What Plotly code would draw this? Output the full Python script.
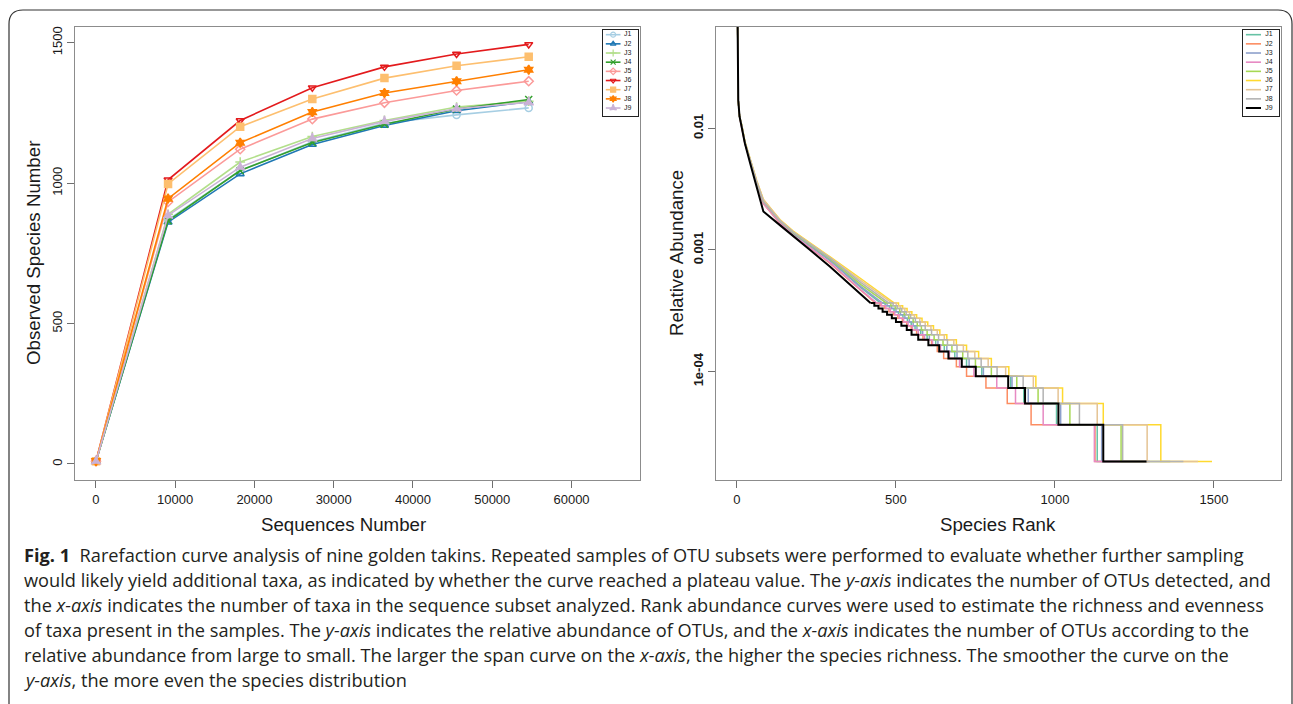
import plotly.graph_objects as go

W, H = 1293, 704

# ---------------- data: rarefaction (left) ----------------
samples = ["J1", "J2", "J3", "J4", "J5", "J6", "J7", "J8", "J9"]
seq_depth = [10, 9100, 18200, 27300, 36400, 45500, 54600]
obs_J1 = [10, 870, 1045, 1147, 1213, 1243, 1268]
obs_J2 = [10, 861, 1033, 1138, 1205, 1258, 1290]
obs_J3 = [10, 889, 1075, 1166, 1223, 1271, 1292]
obs_J4 = [10, 866, 1045, 1145, 1210, 1264, 1298]
obs_J5 = [10, 933, 1121, 1228, 1286, 1330, 1363]
obs_J6 = [10, 1012, 1223, 1340, 1414, 1460, 1494]
obs_J7 = [10, 997, 1201, 1300, 1374, 1418, 1450]
obs_J8 = [10, 945, 1144, 1253, 1321, 1363, 1404]
obs_J9 = [10, 885, 1057, 1159, 1220, 1265, 1288]
observed = [obs_J1, obs_J2, obs_J3, obs_J4, obs_J5, obs_J6, obs_J7, obs_J8, obs_J9]

# ---------------- data: rank abundance (right) ----------------
head_rank = [1, 2, 4, 8, 15, 25, 41, 62, 83, 135, 177, 230, 292, 390]
head_J1 = [0.15, 0.05, 0.017, 0.0125, 0.0105, 0.0076, 0.0055, 0.0036, 0.0025, 0.00170, 0.00136, 0.00108, 0.00082, 0.00049]
head_J2 = [0.15, 0.05, 0.017, 0.0125, 0.0104, 0.0075, 0.0054, 0.0035, 0.0024, 0.00165, 0.00130, 0.00104, 0.00078, 0.00046]
head_J3 = [0.15, 0.05, 0.017, 0.0125, 0.0105, 0.0076, 0.0055, 0.0036, 0.0025, 0.00171, 0.00137, 0.00109, 0.00083, 0.00050]
head_J4 = [0.15, 0.05, 0.017, 0.0125, 0.0104, 0.0075, 0.0054, 0.0035, 0.0024, 0.00167, 0.00132, 0.00105, 0.00079, 0.00047]
head_J5 = [0.15, 0.05, 0.017, 0.0125, 0.0106, 0.0077, 0.0056, 0.0036, 0.0025, 0.00173, 0.00139, 0.00111, 0.00085, 0.00052]
head_J6 = [0.15, 0.05, 0.017, 0.0125, 0.0106, 0.0078, 0.0057, 0.0037, 0.0026, 0.00178, 0.00143, 0.00115, 0.00088, 0.00058]
head_J7 = [0.15, 0.05, 0.017, 0.0125, 0.0106, 0.0077, 0.0056, 0.0037, 0.0026, 0.00176, 0.00141, 0.00113, 0.00087, 0.00056]
head_J8 = [0.15, 0.05, 0.017, 0.0125, 0.0105, 0.0077, 0.0056, 0.0036, 0.0025, 0.00174, 0.00140, 0.00112, 0.00086, 0.00054]
head_J9 = [0.15, 0.05, 0.017, 0.0125, 0.0103, 0.0075, 0.0052, 0.0033, 0.00207, 0.00160, 0.00129, 0.00100, 0.00073, 0.00043]
heads = [head_J1, head_J2, head_J3, head_J4, head_J5, head_J6, head_J7, head_J8, head_J9]

# relative abundance of the low-count steps (20 reads ... 1 read)
tail_levels = [3.663e-4, 3.480e-4, 3.297e-4, 3.114e-4, 2.930e-4, 2.747e-4, 2.564e-4, 2.381e-4,
               2.198e-4, 2.015e-4, 1.832e-4, 1.648e-4, 1.465e-4, 1.282e-4,
               1.099e-4, 9.16e-5, 7.33e-5, 5.49e-5, 3.66e-5, 1.83e-5]
# rank where each step level begins, followed by the last rank
tail_J1 = [452, 466, 480, 494, 508, 522, 536, 548, 560, 578, 598, 625, 652, 685, 722, 770, 861, 902, 1005, 1133, 1268]
tail_J2 = [435, 450, 464, 478, 492, 506, 520, 534, 548, 565, 585, 612, 630, 650, 690, 722, 783, 850, 925, 1126, 1290]
tail_J3 = [458, 472, 486, 500, 514, 528, 542, 554, 566, 584, 605, 632, 660, 692, 730, 775, 865, 916, 1018, 1147, 1292]
tail_J4 = [440, 454, 468, 482, 496, 510, 524, 538, 552, 570, 590, 615, 640, 668, 700, 745, 817, 876, 963, 1124, 1298]
tail_J5 = [470, 484, 498, 512, 526, 540, 554, 567, 580, 598, 620, 648, 676, 710, 750, 800, 880, 947, 1047, 1208, 1363]
tail_J6 = [495, 508, 521, 535, 550, 565, 582, 600, 618, 638, 660, 690, 722, 760, 800, 855, 940, 1024, 1152, 1333, 1494]
tail_J7 = [488, 501, 514, 528, 543, 558, 575, 592, 610, 630, 652, 682, 712, 748, 790, 845, 932, 1010, 1133, 1290, 1450]
tail_J8 = [478, 491, 504, 518, 532, 546, 561, 576, 592, 612, 634, 662, 692, 726, 768, 818, 900, 963, 1077, 1213, 1404]
tail_J9 = [420, 432, 445, 458, 472, 487, 500, 517, 534, 549, 570, 602, 636, 665, 707, 751, 853, 906, 1011, 1152, 1288]
tails = [tail_J1, tail_J2, tail_J3, tail_J4, tail_J5, tail_J6, tail_J7, tail_J8, tail_J9]

# ---------------- styles ----------------
left_colors = ["#A6CEE3", "#1F78B4", "#B2DF8A", "#33A02C", "#FB9A99",
               "#E31A1C", "#FDBF6F", "#FF7F00", "#CAB2D6"]
left_symbols = ["circle-open", "triangle-up-open", "cross-thin-open", "x-thin-open",
                "diamond-open", "triangle-down-open", "square", "hexagram", "star-triangle-up"]
right_colors = ["#66C2A5", "#FC8D62", "#8DA0CB", "#E78AC3", "#A6D854",
                "#FFD92F", "#E5C494", "#B3B3B3", "#000000"]
FONT = "Liberation Sans, Arial, sans-serif"
TXT = "#1a1a1a"

fig = go.Figure()

# left panel
for i, s in enumerate(samples):
    fig.add_trace(go.Scatter(
        x=seq_depth, y=observed[i], mode="lines+markers", name=s,
        line=dict(color=left_colors[i], width=1.6),
        marker=dict(symbol=left_symbols[i], size=7, color=left_colors[i],
                    line=dict(color=left_colors[i], width=1.5)),
        xaxis="x", yaxis="y", showlegend=False, cliponaxis=False))

# right panel
for i, s in enumerate(samples):
    w = 2.0 if s == "J9" else 1.5
    fig.add_trace(go.Scatter(
        x=head_rank + [tails[i][0]], y=heads[i] + [tail_levels[0]],
        mode="lines", line=dict(color=right_colors[i], width=w),
        xaxis="x2", yaxis="y2", showlegend=False))
    fig.add_trace(go.Scatter(
        x=tails[i], y=tail_levels + [tail_levels[-1]],
        mode="lines", line=dict(color=right_colors[i], width=w, shape="hv"),
        xaxis="x2", yaxis="y2", showlegend=False))

# inset legends (drawn as small axes)
rows = list(range(len(samples)))
for i, s in enumerate(samples):
    fig.add_trace(go.Scatter(x=[0.08, 0.50], y=[i, i], mode="lines",
                             line=dict(color=left_colors[i], width=1.6),
                             xaxis="x3", yaxis="y3", showlegend=False))
    fig.add_trace(go.Scatter(x=[0.29], y=[i], mode="markers",
                             marker=dict(symbol=left_symbols[i], size=5, color=left_colors[i],
                                         line=dict(color=left_colors[i], width=1.2)),
                             xaxis="x3", yaxis="y3", showlegend=False))
    fig.add_trace(go.Scatter(x=[0.08, 0.50], y=[i, i], mode="lines",
                             line=dict(color=right_colors[i], width=2.0 if s == "J9" else 1.6),
                             xaxis="x4", yaxis="y4", showlegend=False))
fig.add_trace(go.Scatter(x=[0.60] * len(samples), y=rows, mode="text", text=samples,
                         textposition="middle right",
                         textfont=dict(size=7, family=FONT, color=TXT),
                         xaxis="x3", yaxis="y3", showlegend=False, cliponaxis=False))
fig.add_trace(go.Scatter(x=[0.62] * len(samples), y=rows, mode="text", text=samples,
                         textposition="middle right",
                         textfont=dict(size=7, family=FONT, color=TXT),
                         xaxis="x4", yaxis="y4", showlegend=False, cliponaxis=False))

# ---------------- layout ----------------
def fx(px):
    return px / W


def fy(py):
    return 1 - py / H


box_y = [fy(480), fy(27)]
axis_common = dict(showline=True, mirror=True, linecolor="#8c8c8c", linewidth=1.2,
                   ticks="outside", ticklen=7, tickcolor="#6e6e6e", tickwidth=1,
                   showgrid=False, zeroline=False,
                   tickfont=dict(family=FONT, size=13, color=TXT))
leg_axis = dict(showline=True, mirror=True, linecolor="#222", linewidth=1,
                showgrid=False, zeroline=False, showticklabels=False, ticks="")

fig.update_layout(
    width=W, height=H, margin=dict(l=0, r=0, t=0, b=0),
    paper_bgcolor="white", plot_bgcolor="white",
    font=dict(family=FONT, color=TXT),
    xaxis=dict(domain=[fx(75), fx(640)], anchor="y", range=[-2640, 68640],
               tickvals=[0, 10000, 20000, 30000, 40000, 50000, 60000],
               ticktext=["0", "10000", "20000", "30000", "40000", "50000", "60000"],
               **axis_common),
    yaxis=dict(domain=box_y, anchor="x", range=[-57, 1556],
               tickvals=[0, 500, 1000, 1500], ticktext=["0", "500", "1000", "1500"],
               tickangle=-90, **axis_common),
    xaxis2=dict(domain=[fx(716), fx(1281)], anchor="y2", range=[-66, 1711],
                tickvals=[0, 500, 1000, 1500], ticktext=["0", "500", "1000", "1500"],
                **axis_common),
    yaxis2=dict(domain=box_y, anchor="x2", type="log", range=[-4.89, -1.168],
                tickvals=[0.01, 0.001, 0.0001],
                ticktext=["<b>0.01</b>", "<b>0.001</b>", "<b>1e-04</b>"],
                tickangle=-90, **axis_common),
    xaxis3=dict(domain=[fx(603), fx(638)], anchor="y3", range=[0, 1], **leg_axis),
    yaxis3=dict(domain=[fy(116), fy(30)], anchor="x3", range=[8.87, -0.51], **leg_axis),
    xaxis4=dict(domain=[fx(1243), fx(1279)], anchor="y4", range=[0, 1], **leg_axis),
    yaxis4=dict(domain=[fy(116), fy(30)], anchor="x4", range=[8.87, -0.51], **leg_axis),
)

ann = []
title_font = dict(family=FONT, size=18.7, color=TXT)
ann.append(dict(text="Sequences Number", x=fx(343), y=fy(524), xref="paper", yref="paper",
                showarrow=False, font=title_font, xanchor="center", yanchor="middle"))
ann.append(dict(text="Observed Species Number", x=fx(33), y=fy(253), xref="paper", yref="paper",
                showarrow=False, font=title_font, textangle=-90, xanchor="center", yanchor="middle"))
ann.append(dict(text="Species Rank", x=fx(998), y=fy(524), xref="paper", yref="paper",
                showarrow=False, font=title_font, xanchor="center", yanchor="middle"))
ann.append(dict(text="Relative Abundance", x=fx(676), y=fy(253), xref="paper", yref="paper",
                showarrow=False, font=title_font, textangle=-90, xanchor="center", yanchor="middle"))

caption_lines = [
    "<b>Fig. 1</b>  Rarefaction curve analysis of nine golden takins. Repeated samples of OTU subsets were performed to evaluate whether further sampling",
    "would likely yield additional taxa, as indicated by whether the curve reached a plateau value. The <i>y-axis</i> indicates the number of OTUs detected, and",
    "the <i>x-axis</i> indicates the number of taxa in the sequence subset analyzed. Rank abundance curves were used to estimate the richness and evenness",
    "of taxa present in the samples. The <i>y-axis</i> indicates the relative abundance of OTUs, and the <i>x-axis</i> indicates the number of OTUs according to the",
    "relative abundance from large to small. The larger the span curve on the <i>x-axis</i>, the higher the species richness. The smoother the curve on the",
    "<i>y-axis</i>, the more even the species distribution",
]
cap_font = dict(family="Open Sans, sans-serif", size=18.2, color="#231f20")
for k, line in enumerate(caption_lines):
    ann.append(dict(text=line, x=fx(22), y=fy(555 + 25 * k), xref="paper", yref="paper",
                    showarrow=False, font=cap_font, xanchor="left", yanchor="middle", align="left"))
fig.update_layout(annotations=ann)

# rounded frame around the figure
r = 14
path = (f"M {fx(9)} {fy(H + 5)} L {fx(9)} {fy(10 + r)} "
        f"Q {fx(9)} {fy(10)} {fx(9 + r)} {fy(10)} "
        f"L {fx(W - 1 - r)} {fy(10)} Q {fx(W - 1)} {fy(10)} {fx(W - 1)} {fy(10 + r)} "
        f"L {fx(W - 1)} {fy(H + 5)}")
fig.add_shape(type="path", path=path, xref="paper", yref="paper",
              line=dict(color="#333", width=1.2))

fig.write_html("out.html")
